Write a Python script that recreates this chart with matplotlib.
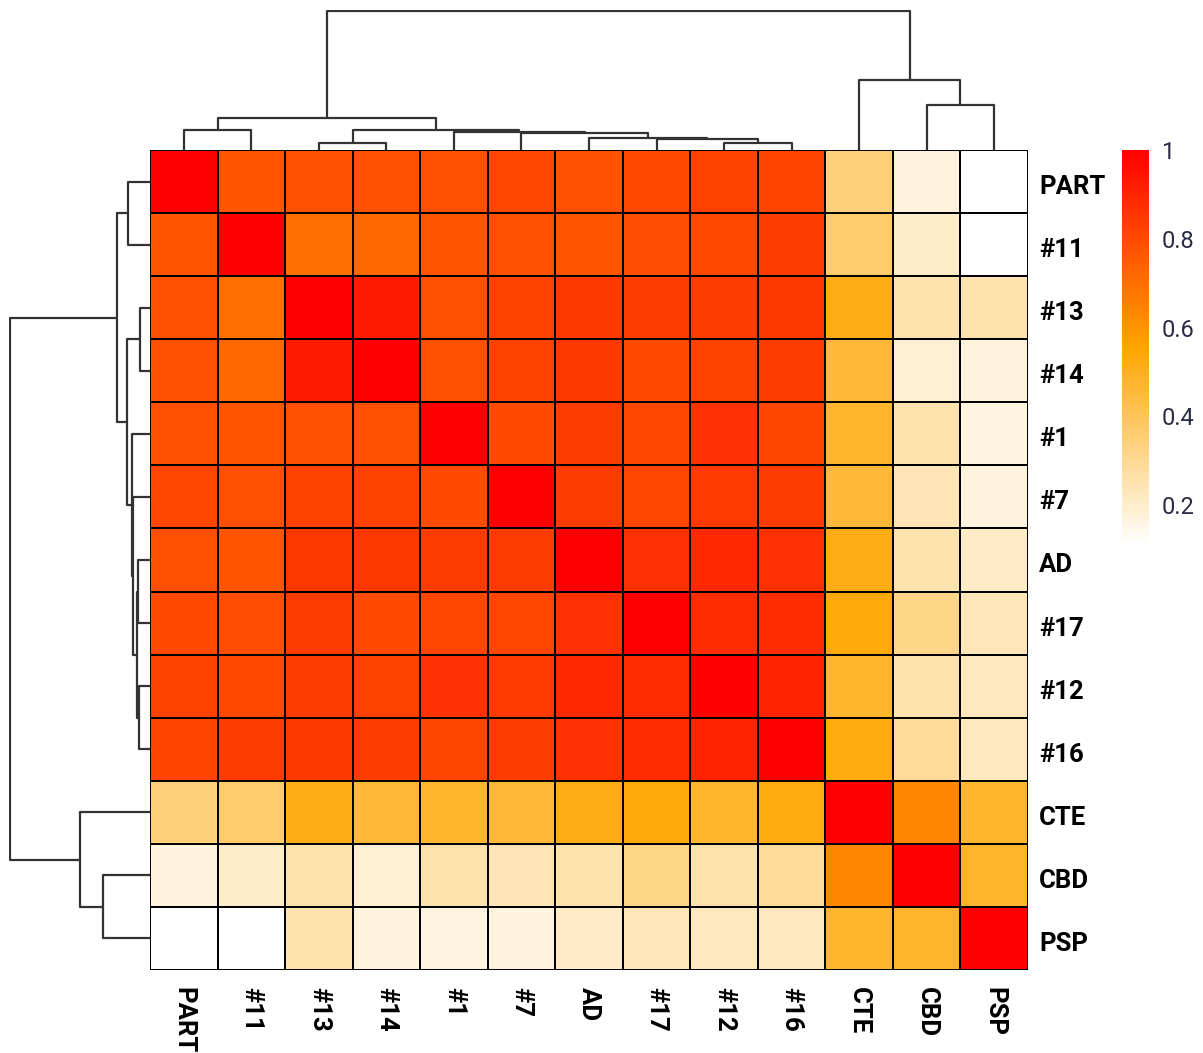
import numpy as np
import matplotlib
matplotlib.use("Agg")
import matplotlib.pyplot as plt
import matplotlib.transforms as mtransforms
from matplotlib.colors import LinearSegmentedColormap

plt.rcParams['font.family'] = ['Roboto', 'DejaVu Sans']

# -------- DATA --------
labels = ["PART", "#11", "#13", "#14", "#1", "#7", "AD", "#17", "#12", "#16", "CTE", "CBD", "PSP"]

# correlation matrix, rows/cols in the clustered order above
corr = [
    [1.00, 0.77, 0.785, 0.785, 0.785, 0.81, 0.785, 0.805, 0.825, 0.82, 0.34, 0.17, 0.11],
    [0.77, 1.00, 0.70, 0.72, 0.77, 0.785, 0.77, 0.79, 0.805, 0.84, 0.37, 0.205, 0.11],
    [0.785, 0.70, 1.00, 0.93, 0.785, 0.825, 0.85, 0.84, 0.84, 0.85, 0.52, 0.25, 0.25],
    [0.785, 0.72, 0.93, 1.00, 0.785, 0.825, 0.85, 0.80, 0.825, 0.84, 0.46, 0.185, 0.17],
    [0.785, 0.77, 0.785, 0.785, 1.00, 0.80, 0.84, 0.81, 0.865, 0.815, 0.477, 0.255, 0.167],
    [0.81, 0.785, 0.825, 0.825, 0.80, 1.00, 0.84, 0.81, 0.845, 0.84, 0.46, 0.24, 0.17],
    [0.785, 0.77, 0.85, 0.85, 0.84, 0.84, 1.00, 0.865, 0.89, 0.865, 0.52, 0.25, 0.21],
    [0.805, 0.79, 0.84, 0.80, 0.81, 0.81, 0.865, 1.00, 0.88, 0.88, 0.537, 0.32, 0.235],
    [0.825, 0.805, 0.84, 0.825, 0.865, 0.845, 0.89, 0.88, 1.00, 0.905, 0.477, 0.255, 0.225],
    [0.82, 0.84, 0.85, 0.84, 0.815, 0.84, 0.865, 0.88, 0.905, 1.00, 0.528, 0.29, 0.225],
    [0.34, 0.37, 0.52, 0.46, 0.477, 0.46, 0.52, 0.537, 0.477, 0.528, 1.00, 0.636, 0.477],
    [0.17, 0.205, 0.25, 0.185, 0.255, 0.24, 0.25, 0.32, 0.255, 0.29, 0.636, 1.00, 0.48],
    [0.11, 0.11, 0.25, 0.17, 0.167, 0.17, 0.21, 0.235, 0.225, 0.225, 0.477, 0.48, 1.00],
]

# linkage: [left, right, height]; leaves 0..12, new nodes numbered from 13
col_links = [
    [8, 9, 6.7], [2, 3, 7.3], [7, 13, 10.7], [6, 15, 12.3], [5, 16, 16.7],
    [4, 17, 18.3], [0, 1, 19.7], [14, 18, 19.7], [19, 20, 32.3],
    [11, 12, 45.7], [10, 22, 70.0], [21, 23, 140.0],
]
row_links = [
    [8, 9, 10.7], [2, 3, 10.0], [6, 7, 12.3], [15, 13, 13.3], [5, 16, 16.7],
    [4, 17, 18.3], [0, 1, 22.3], [14, 18, 22.7], [19, 20, 33.3],
    [11, 12, 47.0], [10, 22, 70.0], [21, 23, 140.0],
]

data = np.array(corr)
n = len(labels)
vmin, vmax = data.min(), data.max()
cmap = LinearSegmentedColormap.from_list("wor", ["white", "orange", "red"])


def dendro_segments(links, nleaves):
    pos = {i: i + 0.5 for i in range(nleaves)}
    hgt = {i: 0.0 for i in range(nleaves)}
    segs = []
    for k, (a, b, h) in enumerate(links):
        a, b = int(a), int(b)
        segs.append(([pos[a], pos[a], pos[b], pos[b]], [hgt[a], h, h, hgt[b]]))
        pos[nleaves + k] = (pos[a] + pos[b]) / 2
        hgt[nleaves + k] = h
    return segs


W, H = 1203, 1053
fig = plt.figure(figsize=(W / 100, H / 100), dpi=100)

hx0, hx1, hy0, hy1 = 150, 1028, 150, 970
ax = fig.add_axes([hx0 / W, 1 - hy1 / H, (hx1 - hx0) / W, (hy1 - hy0) / H])
axt = fig.add_axes([hx0 / W, 1 - hy0 / H, (hx1 - hx0) / W, 140 / H])
axl = fig.add_axes([9 / W, 1 - hy1 / H, (hx0 - 9) / W, (hy1 - hy0) / H])
cax = fig.add_axes([1122 / W, 1 - 545 / H, 27 / W, 395 / H])

# -------- HEATMAP --------
mesh = ax.pcolormesh(np.arange(n + 1), np.arange(n + 1), data, cmap=cmap,
                     vmin=vmin, vmax=vmax, edgecolors="black", linewidth=1.3)
ax.set_xlim(0, n)
ax.set_ylim(n, 0)
ax.set_xticks(np.arange(n) + 0.5)
ax.set_xticklabels(labels, rotation=-90, fontsize=18.5, fontweight="bold", va="top")
ax.set_yticks(np.arange(n) + 0.5)
ax.set_yticklabels(labels, fontsize=18.5, fontweight="bold")
ax.yaxis.tick_right()
ax.tick_params(axis="x", length=0, pad=12)
ax.tick_params(axis="y", length=0, pad=8)
# nudge row labels a little down, like the original
shift = mtransforms.ScaledTranslation(0, -3 / 100, fig.dpi_scale_trans)
for t in ax.get_yticklabels():
    t.set_transform(t.get_transform() + shift)
for s in ax.spines.values():
    s.set_visible(False)

# -------- DENDROGRAMS --------
for xs, ys in dendro_segments(col_links, n):
    axt.plot(xs, ys, color="#333333", lw=1.6, solid_capstyle="butt")
axt.set_xlim(0, n)
axt.set_ylim(0, 141)
axt.axis("off")

for ys, xs in dendro_segments(row_links, n):
    axl.plot(xs, ys, color="#333333", lw=1.6, solid_capstyle="butt")
axl.set_ylim(n, 0)
axl.set_xlim(141, 0)
axl.axis("off")

# -------- COLORBAR --------
cb = fig.colorbar(mesh, cax=cax, ticks=[0.2, 0.4, 0.6, 0.8, 1.0])
cb.set_ticklabels(["0.2", "0.4", "0.6", "0.8", "1"])
cb.outline.set_visible(False)
cax.tick_params(length=0, pad=9, labelsize=17, labelcolor="#2b2b45")

fig.savefig("out.png", dpi=100, facecolor="white")
